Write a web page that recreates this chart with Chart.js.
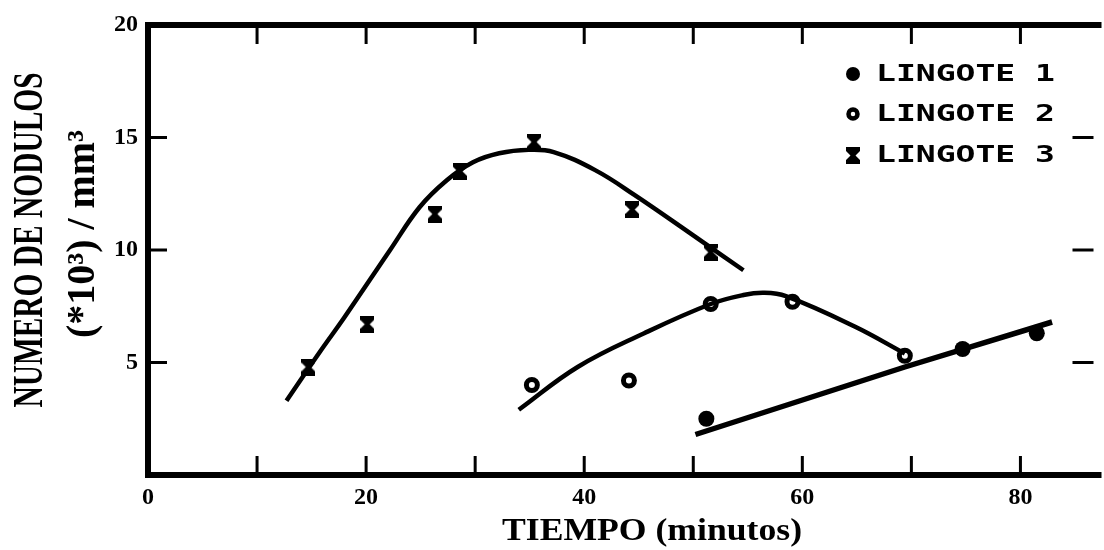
<!DOCTYPE html>
<html>
<head>
<meta charset="utf-8">
<script src="https://cdn.jsdelivr.net/npm/chart.js@4.4.1/dist/chart.umd.min.js"></script>
<style>
html,body{margin:0;padding:0;background:#fff;}
canvas{display:block;}
</style>
</head>
<body>
<canvas id="c" width="1104" height="550" style="width:1104px;height:550px"></canvas>
<script>
// ---- data ----
const seriesNames = ['LINGOTE 1', 'LINGOTE 2', 'LINGOTE 3'];
const xTickLabels = [0, 20, 40, 60, 80];
const yTickLabels = [5, 10, 15, 20];

const l1X = [51.2, 74.7, 81.5];
const l1Y = [2.5, 5.6, 6.3];
const l2X = [35.2, 44.1, 51.6, 59.1, 69.4];
const l2Y = [4.0, 4.2, 7.6, 7.7, 5.3];
const l3X = [14.7, 20.1, 26.3, 28.6, 35.4, 44.4, 51.6];
const l3Y = [4.8, 6.7, 11.6, 13.5, 14.8, 11.8, 9.9];

// hand-drawn fitted curves
const fit1X = [50.2, 69.4, 82.9];
const fit1Y = [1.8, 4.8, 6.8];
const fit2X = [34.0, 39.4, 45.5, 51.6, 54.6, 56.5, 58.5, 64.8, 69.4];
const fit2Y = [2.9, 4.8, 6.3, 7.6, 8.0, 8.1, 7.95, 6.6, 5.4];
const fit3X = [12.7, 15.8, 18.0, 22.2, 24.9, 27.4, 29.8, 32.2, 34.9, 37.2, 41.0, 44.6, 50.0, 54.6];
const fit3Y = [3.3, 5.5, 7.0, 10.0, 11.9, 13.1, 13.9, 14.3, 14.45, 14.35, 13.55, 12.45, 10.65, 9.1];

const pts = (xs, ys) => xs.map((x, i) => ({x: x, y: ys[i]}));

function makeHourglass(w, h) {
  const c = document.createElement('canvas');
  c.width = w; c.height = h;
  const g = c.getContext('2d');
  g.fillStyle = '#000';
  g.beginPath();
  g.moveTo(0, 0); g.lineTo(w, 0); g.lineTo(w, 4);
  g.lineTo(w / 2 + 2.5, h / 2);
  g.lineTo(w, h - 4); g.lineTo(w, h); g.lineTo(0, h); g.lineTo(0, h - 4);
  g.lineTo(w / 2 - 2.5, h / 2);
  g.lineTo(0, 4);
  g.closePath(); g.fill();
  return c;
}
const hourglass = makeHourglass(14, 17);

function drawFitted(ctx, text, cx, cy, font, width, rot) {
  ctx.save();
  ctx.font = font;
  const w = ctx.measureText(text).width;
  ctx.translate(cx, cy);
  ctx.rotate(rot);
  ctx.scale(width / w, 1);
  ctx.textAlign = 'center';
  ctx.textBaseline = 'middle';
  ctx.fillStyle = '#000';
  ctx.fillText(text, 0, 0);
  ctx.restore();
}

const bgPlugin = {
  id: 'bg',
  beforeDraw(chart) {
    const ctx = chart.ctx;
    ctx.save(); ctx.fillStyle = '#fff';
    ctx.fillRect(0, 0, chart.width, chart.height);
    ctx.restore();
  }
};

const framePlugin = {
  id: 'frame',
  afterDatasetsDraw(chart) {
    const ctx = chart.ctx;
    const a = chart.chartArea;
    const xs = chart.scales.x, ys = chart.scales.y;
    ctx.save();
    ctx.strokeStyle = '#000';
    ctx.lineCap = 'square';
    ctx.lineWidth = 6;
    ctx.beginPath();
    ctx.moveTo(a.right + 5, a.top);
    ctx.lineTo(a.left, a.top);
    ctx.lineTo(a.left, a.bottom);
    ctx.lineTo(a.right + 5, a.bottom);
    ctx.stroke();
    ctx.lineWidth = 3;
    ctx.lineCap = 'butt';
    ctx.beginPath();
    xs.ticks.forEach(t => {
      if (t.value <= 0) return;
      const px = xs.getPixelForValue(t.value);
      ctx.moveTo(px, a.bottom); ctx.lineTo(px, a.bottom - 19);
      ctx.moveTo(px, a.top); ctx.lineTo(px, a.top + 19);
    });
    ys.ticks.forEach(t => {
      if (t.value <= 0 || t.value >= 20) return;
      const py = ys.getPixelForValue(t.value);
      ctx.moveTo(a.left, py); ctx.lineTo(a.left + 19, py);
      ctx.moveTo(a.right, py); ctx.lineTo(a.right - 21, py);
    });
    ctx.stroke();
    ctx.restore();
  },
  afterDraw(chart) {
    const ctx = chart.ctx;
    // axis titles
    drawFitted(ctx, 'NUMERO DE NODULOS', 31, 240, 'bold 42px "Liberation Serif"', 335, -Math.PI / 2);
    drawFitted(ctx, '(*10\u00B3) / mm\u00B3', 84, 234, 'bold 40px "Liberation Serif"', 208, -Math.PI / 2);
    drawFitted(ctx, 'TIEMPO (minutos)', 652, 532, 'bold 32px "Liberation Serif"', 300, 0);
    // legend
    const rows = [74, 114, 155];
    const mx = 853;
    rows.forEach((ry, i) => {
      ctx.save();
      ctx.fillStyle = '#000'; ctx.strokeStyle = '#000';
      if (i === 0) {
        ctx.beginPath(); ctx.arc(mx, ry, 7, 0, Math.PI * 2); ctx.fill();
      } else if (i === 1) {
        ctx.lineWidth = 4.5;
        ctx.beginPath(); ctx.arc(mx, ry, 4.5, 0, Math.PI * 2); ctx.stroke();
      } else {
        ctx.drawImage(hourglass, mx - 7, ry - 8);
      }
      ctx.restore();
      drawFitted(ctx, seriesNames[i], 876 + 179 / 2, ry + 1, 'bold 23px "DejaVu Sans Mono"', 179, 0);
    });
  }
};

const lineCommon = {
  showLine: true, pointRadius: 0, borderColor: '#000', borderWidth: 4.5,
  tension: 0.4, fill: false
};

new Chart(document.getElementById('c'), {
  type: 'scatter',
  data: {
    datasets: [
      Object.assign({label: 'fit 1', data: pts(fit1X, fit1Y)}, lineCommon, {borderWidth: 5.5, tension: 0}),
      Object.assign({label: 'fit 2', data: pts(fit2X, fit2Y)}, lineCommon),
      Object.assign({label: 'fit 3', data: pts(fit3X, fit3Y)}, lineCommon),
      {label: seriesNames[0], data: pts(l1X, l1Y), showLine: false, pointStyle: 'circle',
       pointRadius: 8, backgroundColor: '#000', borderColor: '#000', borderWidth: 0},
      {label: seriesNames[1], data: pts(l2X, l2Y), showLine: false, pointStyle: 'circle',
       pointRadius: 5.5, backgroundColor: '#fff', borderColor: '#000', borderWidth: 5},
      {label: seriesNames[2], data: pts(l3X, l3Y), showLine: false, pointStyle: hourglass,
       pointRadius: 8, borderColor: '#000', backgroundColor: '#000'}
    ]
  },
  options: {
    responsive: false,
    animation: false,
    devicePixelRatio: 1,
    layout: {padding: {top: 25, right: 0, bottom: 0, left: 0}},
    plugins: {legend: {display: false}, tooltip: {enabled: false}},
    scales: {
      x: {
        type: 'linear', min: 0, max: 86.7,
        grid: {display: false, drawTicks: false}, border: {display: false},
        afterFit(s) { s.height = 75; },
        afterBuildTicks(s) { s.ticks = s.ticks.filter(t => Math.abs(t.value % 10) < 1e-6); },
        ticks: {
          stepSize: 10, includeBounds: false, autoSkip: false, maxRotation: 0, padding: 8, color: '#000',
          font: {family: '"Liberation Serif"', size: 24, weight: 'bold'},
          callback: v => xTickLabels.includes(v) ? String(v) : ''
        }
      },
      y: {
        type: 'linear', min: 0, max: 20,
        grid: {display: false, drawTicks: false}, border: {display: false},
        afterFit(s) { s.width = 148; },
        ticks: {
          stepSize: 5, padding: 10, color: '#000',
          font: {family: '"Liberation Serif"', size: 24, weight: 'bold'},
          callback: v => yTickLabels.includes(v) ? String(v) : ''
        }
      }
    }
  },
  plugins: [bgPlugin, framePlugin]
});
</script>
</body>
</html>
